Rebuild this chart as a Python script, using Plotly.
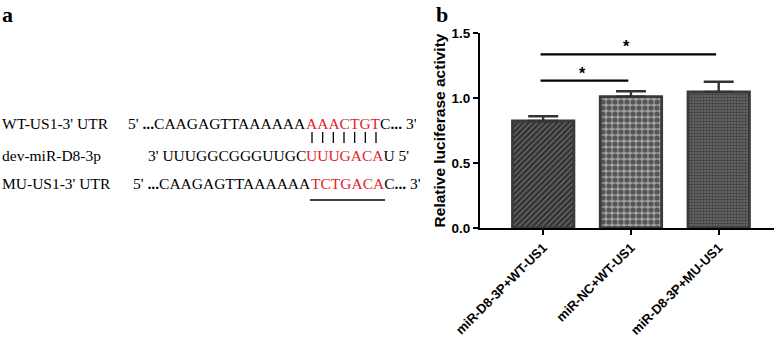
import plotly.graph_objects as go

W, H = 778, 344

# ---------------- data ----------------
groups = ["miR-D8-3P+WT-US1", "miR-NC+WT-US1", "miR-D8-3P+MU-US1"]
means = [0.823, 1.010, 1.047]
sem_up = [0.037, 0.042, 0.078]
y_ticks = [0.0, 0.5, 1.0, 1.5]
comparisons = [(0, 1, 1.134, "*"), (0, 2, 1.336, "*")]

seq_labels = ["WT-US1-3' UTR", "dev-miR-D8-3p", "MU-US1-3' UTR"]
seq_prefix = ["5' <b>...</b>CAAGAGTTAAAAAA", "3' UUUGGCGGGUUGC", "5' <b>...</b>CAAGAGTTAAAAAA"]
seq_red = ["AAACTGT", "UUUGACA", "TCTGACA"]
seq_tail = ["C<b>...</b> 3'", "U 5'", "C<b>...</b> 3'"]

# ---------------- helpers ----------------
def px(x):
    return x / W

def py(y):
    return 1 - y / H

RED = "#e3222a"
SERIF = "Liberation Serif, Times New Roman, serif"
SANS = "Liberation Sans, Arial, sans-serif"

fig = go.Figure()

fig.add_trace(go.Bar(
    x=list(range(len(groups))),
    y=means,
    width=0.70,
    marker=dict(
        color="#333333",
        line=dict(color="#3a3a3a", width=2.8),
        pattern=dict(
            shape=["/", ".", "."],
            fgcolor=["#9a9a9a", "#0a0a0a", "#141414"],
            bgcolor=["#2e2e2e", "#a2a2a2", "#6e6e6e"],
            size=[4, 6, 3],
            solidity=[0.45, 0.6, 0.55],
            fillmode="overlay",
        ),
    ),
    error_y=dict(type="data", symmetric=False, array=sem_up,
                 arrayminus=[0] * len(means), color="#333333",
                 thickness=2.4, width=15),
    showlegend=False,
))

# significance brackets
for (i, j, yv, txt) in comparisons:
    fig.add_shape(type="line", xref="x", yref="y", x0=i - 0.03, x1=j - 0.03,
                  y0=yv, y1=yv, line=dict(color="black", width=2.2))
    fig.add_annotation(xref="x", yref="y", x=(i + j) / 2 - 0.05, y=yv,
                       text="<b>" + txt + "</b>", showarrow=False, yanchor="bottom", yshift=-3,
                       font=dict(family=SANS, size=16, color="black"))

fig.update_layout(
    width=W, height=H,
    margin=dict(l=0, r=0, t=0, b=0, autoexpand=False),
    paper_bgcolor="white", plot_bgcolor="white",
    xaxis=dict(
        domain=[px(480), px(774)],
        range=[-0.72, 2.63],
        tickmode="array", tickvals=list(range(len(groups))), ticktext=groups,
        tickangle=-45,
        tickfont=dict(family=SANS, size=13, color="black", weight="bold"),
        showline=True, linecolor="black", linewidth=2,
        ticks="outside", ticklen=5, tickwidth=2, tickcolor="black",
        showgrid=False, zeroline=False,
    ),
    yaxis=dict(
        domain=[py(228), py(33)],
        range=[0, 1.5],
        tickmode="array", tickvals=y_ticks, tickformat=".1f",
        tickfont=dict(family=SANS, size=13.5, color="black", weight="bold"),
        showline=True, linecolor="black", linewidth=2,
        ticks="outside", ticklen=5, tickwidth=2, tickcolor="black",
        showgrid=False, zeroline=False,
        title=dict(text="Relative luciferase activity", standoff=2,
                   font=dict(family=SANS, size=15.5, color="black", weight="bold")),
    ),
)

# panel labels
fig.add_annotation(xref="paper", yref="paper", x=px(0), y=py(0), text="<b>a</b>",
                   showarrow=False, xanchor="left", yanchor="top",
                   font=dict(family=SERIF, size=22, color="black"))
fig.add_annotation(xref="paper", yref="paper", x=px(434), y=py(0), text="<b>b</b>",
                   showarrow=False, xanchor="left", yanchor="top",
                   font=dict(family=SERIF, size=22, color="black"))

# panel a sequences
line_y = [124, 155, 184]
red_x = [306, 306, 311]
for k in range(3):
    yk = py(line_y[k])
    fig.add_annotation(xref="paper", yref="paper", x=px(0), y=yk, text=seq_labels[k],
                       showarrow=False, xanchor="left", yanchor="middle",
                       font=dict(family=SERIF, size=15.5, color="black"))
    fig.add_annotation(xref="paper", yref="paper", x=px(red_x[k]), y=yk, text=seq_prefix[k],
                       showarrow=False, xanchor="right", yanchor="middle", xshift=2,
                       font=dict(family=SERIF, size=15.5, color="black"))
    fig.add_annotation(xref="paper", yref="paper", x=px(red_x[k]), y=yk,
                       text=f"<span style='color:{RED}'>{seq_red[k]}</span>{seq_tail[k]}",
                       showarrow=False, xanchor="left", yanchor="middle", xshift=-2,
                       font=dict(family=SERIF, size=15.5, color="black"))

# base-pairing ticks between WT and miRNA seed
n = len(seq_red[0])
for m in range(n):
    xm = 312 + m * (376 - 312) / (n - 1)
    fig.add_shape(type="line", xref="paper", yref="paper",
                  x0=px(xm), x1=px(xm), y0=py(132), y1=py(143),
                  line=dict(color="black", width=1.3))

# underline of mutated site
fig.add_shape(type="line", xref="paper", yref="paper",
              x0=px(310), x1=px(385), y0=py(200), y1=py(200),
              line=dict(color="black", width=1.3))

fig.write_html("out.html", config={"displayModeBar": False},
               post_script="document.body.style.margin='0';document.body.style.overflow='hidden';")
